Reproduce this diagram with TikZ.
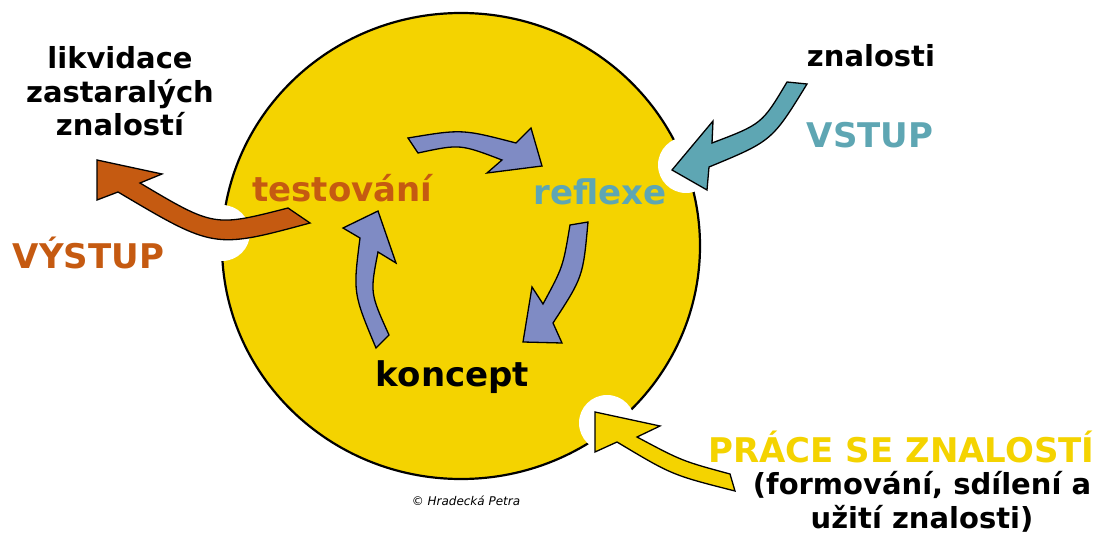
\documentclass[tikz,border=0pt]{standalone}
\usepackage{fontspec}
\setmainfont{DejaVu Sans}
\begin{document}
\begin{tikzpicture}[x=1pt,y=-1pt,
  blockarrow/.style={draw=black,line width=1.3pt,line join=miter},
  label/.style={font=\bfseries\fontsize{29}{33.5}\selectfont,anchor=base,inner sep=0pt,align=center},
  biglabel/.style={font=\bfseries\fontsize{34}{40}\selectfont,anchor=base,inner sep=0pt},
  notch/.style={fill=white,draw=none}]
\definecolor{sun}{RGB}{244,211,0}
\definecolor{sea}{RGB}{94,166,179}
\definecolor{rust}{RGB}{197,90,17}
\definecolor{lav}{RGB}{127,139,196}
\useasboundingbox (0,0) rectangle (1111,537);

% main disc
\draw[fill=sun,line width=2.2pt] (461,246) ellipse [x radius=239,y radius=233];

% white notches where the outer arrows meet the disc
\fill[notch] (686,165) circle [radius=28];
\fill[notch] (222,233) circle [radius=28];
\fill[notch] (607,423) circle [radius=28];

% outer arrows
\draw[blockarrow,fill=sea] (787,82) .. controls (762,124) .. (712,143) -- (713,121) -- (672,170)
  -- (707,190) -- (709,167) .. controls (772,141) .. (807,84) -- cycle;
\draw[blockarrow,fill=rust] (97,160) -- (162,174) -- (140,183) .. controls (214,227) .. (288,208)
  -- (310,223) .. controls (214,249) .. (118,192) -- (97,200) -- cycle;
\draw[blockarrow,fill=sun] (595,412) -- (660,426) -- (637,437) .. controls (682,461) .. (730,474)
  -- (735,491) .. controls (672,475) .. (617,442) -- (595,452) -- cycle;

% inner cycle arrows
\draw[blockarrow,fill=lav] (408,138) .. controls (462,129) .. (516,143) -- (531,128) -- (542,166)
  -- (487,173) -- (502,160) .. controls (460,144) .. (418,153) -- cycle;
\draw[blockarrow,fill=lav] (588,222) .. controls (583,277) .. (553,323) -- (562,343) -- (523,342)
  -- (532,287) -- (543,304) .. controls (563,267) .. (570,225) -- cycle;
\draw[blockarrow,fill=lav] (389,335) .. controls (370,293) .. (378,252) -- (396,263) -- (378,211)
  -- (343,228) -- (360,238) .. controls (353,293) .. (376,348) -- cycle;

% texts (multi-line nodes are anchored at the baseline of their last line)
\node[label] (old) at (120,136) {likvidace\\zastaralých\\znalostí};
\node[biglabel,text=rust] (out) at (88.5,269) {VÝSTUP};
\node[biglabel,text=rust] (test) at (342.5,202) {testování};
\node[biglabel,text=sea] (refl) at (600,205) {reflexe};
\node[biglabel] (conc) at (452.5,386) {koncept};
\node[label] (know) at (871,67) {znalosti};
\node[biglabel,text=sea] (in) at (870,148) {VSTUP};
\node[biglabel,text=sun] (work) at (901.5,462) {PRÁCE SE ZNALOSTÍ};
\node[label] (workdet) at (922,528) {(formování, sdílení a\\užití znalosti)};
\node[font=\itshape\fontsize{12}{14}\selectfont,anchor=base,inner sep=0pt] (copy) at (466,505) {© Hradecká Petra};
\end{tikzpicture}
\end{document}
